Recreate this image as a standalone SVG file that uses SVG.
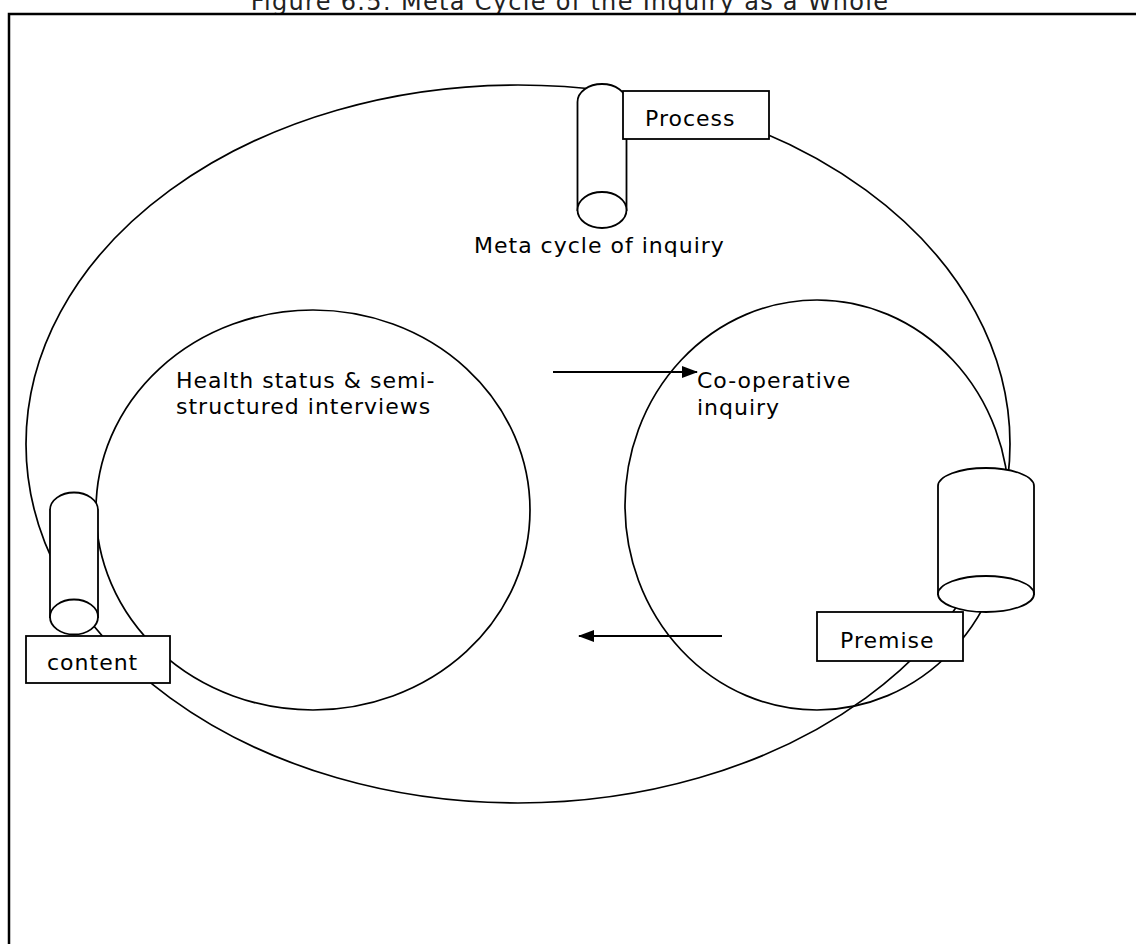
<svg xmlns="http://www.w3.org/2000/svg" width="1136" height="944" viewBox="0 0 1136 944">
<style>
.ln{fill:none;stroke:#000;stroke-width:1.7}
.ar{fill:none;stroke:#000;stroke-width:2}
.sh{fill:#fff;stroke:#000;stroke-width:1.8}
.t{font-family:"DejaVu Sans",Verdana,sans-serif;font-size:22px;letter-spacing:1px;fill:#000}
.ti{font-family:"DejaVu Sans",Verdana,sans-serif;font-size:24px;letter-spacing:1.3px;fill:#222}
</style>
<defs>
<marker id="ah2" markerWidth="16" markerHeight="12" refX="15" refY="6" orient="auto" markerUnits="userSpaceOnUse">
<path d="M0,0 L16,6 L0,12 Z" fill="#000"/>
</marker>
</defs>
<rect width="1136" height="944" fill="#fff"/>
<text class="ti" x="570" y="10" text-anchor="middle">Figure 6.5: Meta Cycle of the Inquiry as a Whole</text>
<rect x="9" y="14" width="1140" height="950" fill="none" stroke="#000" stroke-width="2.5"/>
<g id="meta-cycle">
<ellipse class="ln" cx="518" cy="444" rx="492" ry="359"/>
</g>
<g id="health-status">
<ellipse class="ln" cx="313" cy="510" rx="217" ry="200"/>
<text class="t" x="176" y="388">Health status &amp; semi-</text>
<text class="t" x="176" y="414">structured interviews</text>
</g>
<g id="cooperative-inquiry">
<ellipse class="ln" cx="817" cy="505" rx="192" ry="205"/>
<text class="t" x="697" y="388">Co-operative</text>
<text class="t" x="697" y="415">inquiry</text>
</g>
<g id="connectors">
<line class="ar" x1="553" y1="372" x2="697" y2="372" marker-end="url(#ah2)"/>
<line class="ar" x1="722" y1="636" x2="579" y2="636" marker-end="url(#ah2)"/>
</g>
<g id="process">
<path class="sh" d="M577.5,210 L577.5,102 A24.5,18 0 0 1 626.5,102 L626.5,210 Z"/>
<ellipse class="sh" cx="602" cy="210" rx="24.5" ry="18"/>
<rect class="sh" x="623" y="91" width="146" height="48"/>
<text class="t" x="645" y="126">Process</text>
<text class="t" x="474" y="253">Meta cycle of inquiry</text>
</g>
<g id="content">
<path class="sh" d="M50,617 L50,510 A24,17.5 0 0 1 98,510 L98,617 Z"/>
<ellipse class="sh" cx="74" cy="617" rx="24" ry="17.5"/>
<rect class="sh" x="26" y="636" width="144" height="47"/>
<text class="t" x="47" y="670">content</text>
</g>
<g id="premise">
<path class="sh" d="M938,594 L938,486 A48,18 0 0 1 1034,486 L1034,594 Z"/>
<ellipse class="sh" cx="986" cy="594" rx="48" ry="18"/>
<rect class="sh" x="817" y="612" width="146" height="49"/>
<text class="t" x="840" y="648">Premise</text>
</g>
</svg>
